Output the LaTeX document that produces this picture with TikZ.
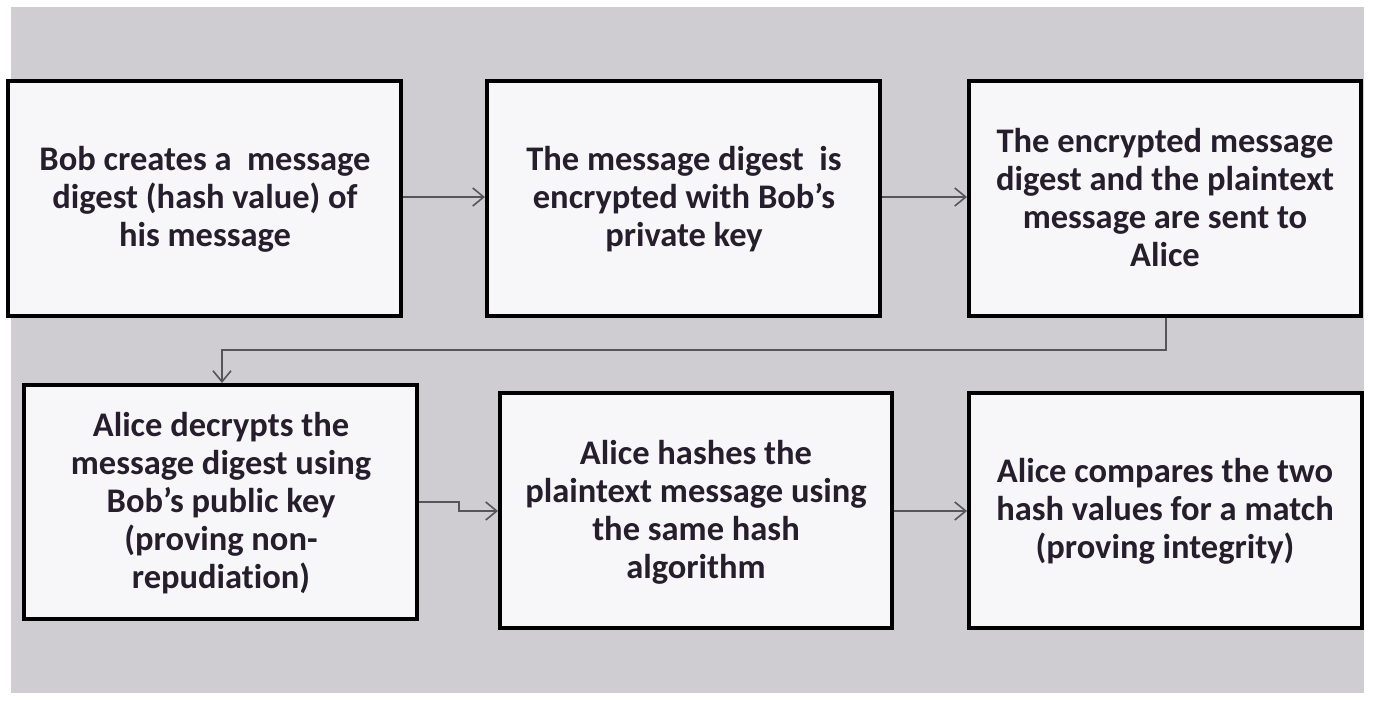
\documentclass[tikz,border=0pt]{standalone}
\usepackage{fontspec}
\setmainfont{Carlito}[Ligatures=NoCommon]
\usetikzlibrary{arrows.meta}
\definecolor{bggray}{RGB}{207,205,209}
\definecolor{boxfill}{RGB}{247,246,248}
\definecolor{txt}{RGB}{38,30,44}
\definecolor{arr}{RGB}{85,85,90}
\begin{document}
\begin{tikzpicture}[x=1pt,y=-1pt,
  stepbox/.style={draw=black,line width=4pt,fill=boxfill,inner sep=0pt},
  lbl/.style={align=center,text=txt,font=\fontsize{34.5}{38}\selectfont\bfseries},
  conn/.style={draw=arr,line width=1.6pt,-{Straight Barb[length=11pt,width=18pt,line width=1.6pt]}}]
\useasboundingbox (0,0) rectangle (1379,702);
\fill[white] (0,0) rectangle (1379,702);
\fill[bggray] (11,7) rectangle (1364,693);
% boxes
\path[stepbox] (8,81) rectangle (401,316);
\path[stepbox] (487,81) rectangle (880,316);
\path[stepbox] (969,81) rectangle (1361,316);
\path[stepbox] (24,385) rectangle (417,619);
\path[stepbox] (500,393) rectangle (892,628);
\path[stepbox] (969,393) rectangle (1362,628);
\coordinate (b1e) at (403,197);
\coordinate (b2w) at (485,197);
\coordinate (b2e) at (882,197);
\coordinate (b3w) at (967,197);
\coordinate (b3s) at (1166,318);
\coordinate (b4n) at (222,383);
\coordinate (b4e) at (419,502);
\coordinate (b5w) at (498,511);
\coordinate (b5e) at (894,511);
\coordinate (b6w) at (967,511);
\node[lbl] (t1) at (205,199) {Bob creates a \ message\\digest (hash value) of\\his message};
\node[lbl] (t2) at (684,199) {The message digest \ is\\encrypted with Bob’s\\private key};
\node[lbl] (t3) at (1165,198) {The encrypted message\\digest and the plaintext\\message are sent to\\Alice};
\node[lbl] (t4) at (221,503) {Alice decrypts the\\message digest using\\Bob’s public key\\(proving non-\\repudiation)};
\node[lbl] (t5) at (696,512) {Alice hashes the\\plaintext message using\\the same hash\\algorithm};
\node[lbl] (t6) at (1165,511) {Alice compares the two\\hash values for a match\\(proving integrity)};
% connectors
\draw[conn] (b1e) -- (b2w);
\draw[conn] (b2e) -- (b3w);
\draw[conn] (b3s) |- (1000,350) -| (b4n);
\draw[conn] (b4e) -- (459,502) -- (459,511) -- (b5w);
\draw[conn] (b5e) -- (b6w);
\end{tikzpicture}
\end{document}
